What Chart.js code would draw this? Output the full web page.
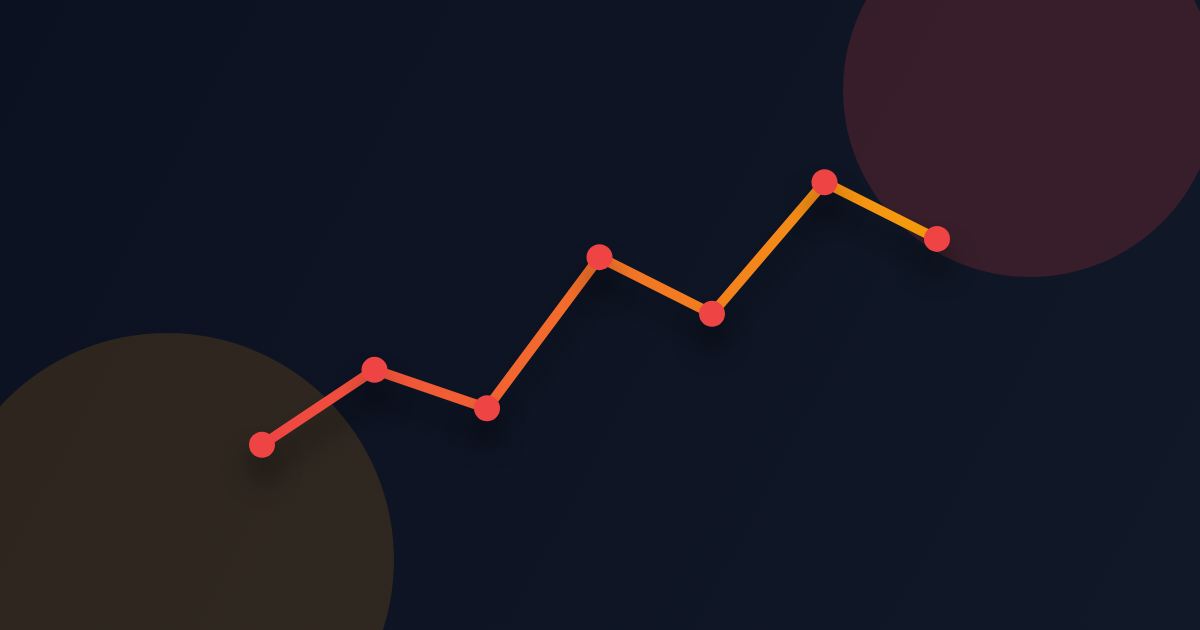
<!DOCTYPE html>
<html>
<head>
<meta charset="utf-8">
<script src="https://cdn.jsdelivr.net/npm/chart.js@4.4.0/dist/chart.umd.min.js"></script>
<style>
  html, body { margin: 0; padding: 0; background: #0e1524; }
  #wrap { width: 1200px; height: 630px; position: relative; }
</style>
</head>
<body>
<div id="wrap"><canvas id="line-graph" width="1200" height="630"></canvas></div>
<script>
// data
const labels = ["1", "2", "3", "4", "5", "6", "7"];
const values = [28, 40.7, 34.2, 59.8, 50.2, 72.5, 62.9];
const yMin = 0;
const yMax = 100;

// background: gradient + two soft circles
const backdrop = {
    id: 'backdrop',
    beforeDraw(chart) {
        const ctx = chart.ctx;
        const w = chart.width, h = chart.height;
        ctx.save();
        let g = ctx.createLinearGradient(0, 0, w, h);
        g.addColorStop(0, '#0b1120');
        g.addColorStop(1, '#111827');
        ctx.fillStyle = g;
        ctx.fillRect(0, 0, w, h);

        ctx.fillStyle = 'rgba(245,158,11,0.14)';
        ctx.beginPath();
        ctx.arc(167, 560, 227, 0, Math.PI * 2);
        ctx.fill();

        ctx.fillStyle = 'rgba(239,68,68,0.18)';
        ctx.beginPath();
        ctx.arc(1030, 90, 187, 0, Math.PI * 2);
        ctx.fill();
        ctx.restore();
    }
};

// soft shadow under the line
const lineShadow = {
    id: 'lineShadow',
    beforeDatasetDraw(chart) {
        const ctx = chart.ctx;
        ctx.save();
        ctx.shadowColor = 'rgba(0,0,0,0.4)';
        ctx.shadowBlur = 28;
        ctx.shadowOffsetY = 22;
    },
    afterDatasetDraw(chart) {
        chart.ctx.restore();
    }
};

function strokeGradient(context) {
    const chart = context.chart;
    const area = chart.chartArea;
    if (!area) return '#ef4444';
    let g = chart.ctx.createLinearGradient(area.left, 0, area.right, 0);
    g.addColorStop(0, '#ef4444');
    g.addColorStop(1, '#f59e0b');
    return g;
}

new Chart(document.getElementById('line-graph').getContext('2d'), {
    type: 'line',
    data: {
        labels: labels,
        datasets: [{
            data: values,
            borderColor: strokeGradient,
            borderWidth: 10,
            pointBackgroundColor: '#ef4444',
            pointBorderColor: '#ef4444',
            pointBorderWidth: 0,
            pointRadius: 13,
            pointHoverRadius: 13,
            tension: 0,
            fill: false,
            clip: false
        }]
    },
    options: {
        responsive: false,
        animation: false,
        layout: { padding: { left: 262, right: 263, top: 20, bottom: 20 } },
        plugins: {
            legend: { display: false },
            tooltip: { enabled: false }
        },
        scales: {
            x: { display: false, offset: false },
            y: { display: false, min: yMin, max: yMax }
        }
    },
    plugins: [backdrop, lineShadow]
});
</script>
</body>
</html>
